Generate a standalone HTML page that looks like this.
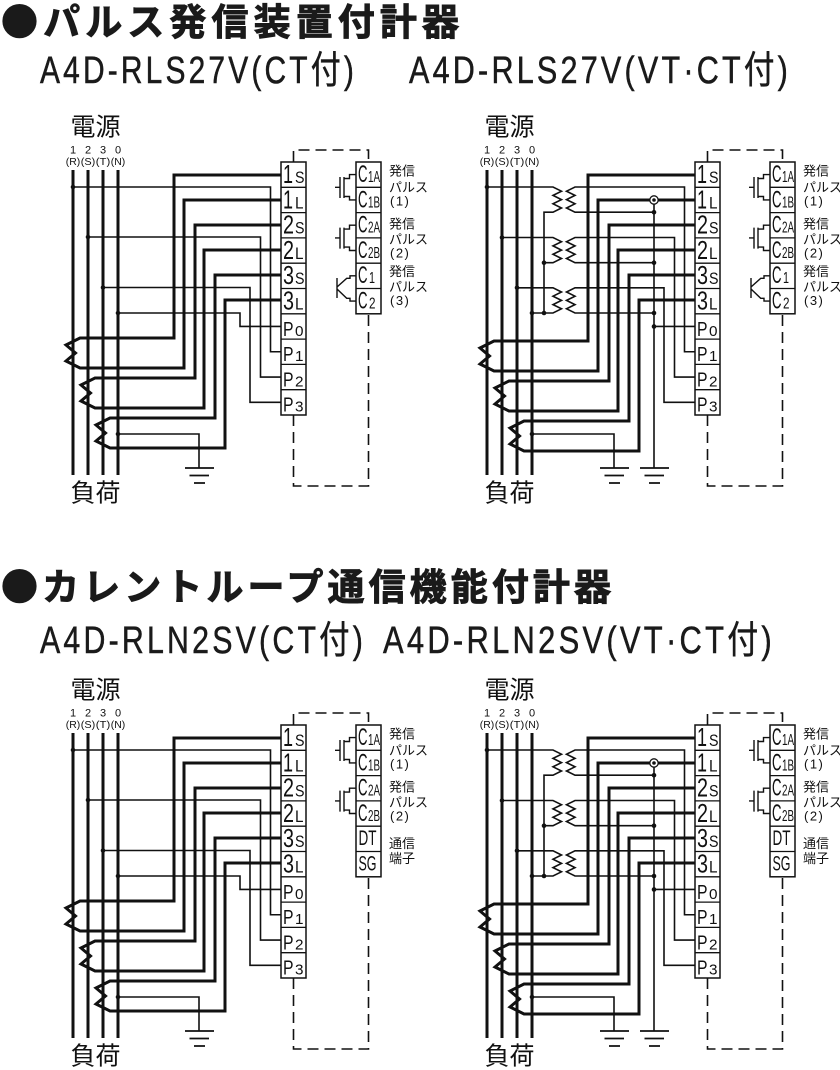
<!DOCTYPE html>
<html><head><meta charset="utf-8">
<style>html,body{margin:0;padding:0;background:#fff}svg{display:block}</style>
</head><body>
<svg xmlns="http://www.w3.org/2000/svg" width="840" height="1070" viewBox="0 0 840 1070">
<rect width="840" height="1070" fill="#fff"/>
<!-- Titles -->
<g font-family="'Noto Sans CJK JP',sans-serif" font-weight="700" fill="#1a1a1a" stroke="#1a1a1a" stroke-width="0.9" font-size="37">
<text x="1" y="35" textLength="458">●パルス発信装置付計器</text>
<text x="1" y="600" textLength="610">●カレントループ通信機能付計器</text>
</g>
<g font-family="'Liberation Sans','Noto Sans CJK JP',sans-serif" font-size="38" fill="#1a1a1a" stroke="#1a1a1a" stroke-width="0.5" letter-spacing="4">
<text x="40" y="83" textLength="317" lengthAdjust="spacingAndGlyphs">A4D-RLS27V(CT付)</text>
<text x="409" y="83" textLength="382" lengthAdjust="spacingAndGlyphs">A4D-RLS27V(VT·CT付)</text>
<text x="40" y="653" textLength="326" lengthAdjust="spacingAndGlyphs">A4D-RLN2SV(CT付)</text>
<text x="383" y="653" textLength="392" lengthAdjust="spacingAndGlyphs">A4D-RLN2SV(VT·CT付)</text>
</g>

<!-- ========== DIAGRAM 1 (top-left, CT) ========== -->
<g transform="translate(0,0)">
<g fill="none" stroke="#111">
<path stroke-width="3" d="M73 170V475M88 170V475M103 170V475M118 170V475"/>
<path stroke-width="3" d="M281 175H174V338H80L66 345L75.5 353L66 361L80 368H184V200H281M281 225H195V378H95L81 385L90.5 393L81 401L95 408H204V250H281M281 275H215V418H110L96 425L105.5 433L96 441L110 448H225V300H281"/>
<path stroke-width="1.6" d="M73 187H270.5V351.75H281M88 237H260.5V377.05H281M103 287.5H250V402.35H281M118 313H240V326.45H281M118 434H199V468"/>
<path stroke-width="1.8" d="M185 468H214M189.5 475.5H209M194 483H205"/>
<rect x="281" y="162" width="25" height="253" fill="#fff" stroke-width="1.5"/>
<path stroke-width="1.3" d="M281 187.3H306M281 212.6H306M281 237.9H306M281 263.2H306M281 288.5H306M281 313.8H306M281 339.1H306M281 364.4H306M281 389.7H306"/>
<rect x="356" y="162" width="25" height="151.8" fill="#fff" stroke-width="1.5"/>
<path stroke-width="1.3" d="M356 187.3H381M356 212.6H381M356 237.9H381M356 263.2H381M356 288.5H381"/>
<path stroke-width="1.6" stroke-dasharray="11 6" d="M293.5 162V150H368.5V162M293.5 415V486H368.5V313.8"/>
<path stroke-width="1.4" d="M335 187.3H340M340 177V198M344 177V198M344 178.5H349.5V174.6H356M344 196.5H349.5V199.9H356M335 237.9H340M340 227.6V248.6M344 227.6V248.6M344 229.1H349.5V225.2H356M344 247.1H349.5V250.5H356"/>
<path stroke-width="1.4" d="M337 278V298M337 287L346.7 278.3H350V275.8H356M337 289L346.7 298.3H350V301.1H356"/>
</g>
<g fill="#111"><circle cx="73" cy="187" r="2.3"/><circle cx="88" cy="237" r="2.3"/><circle cx="103" cy="287.5" r="2.3"/><circle cx="118" cy="313" r="2.3"/><circle cx="118" cy="434" r="2.3"/></g>
<g font-family="'Liberation Sans',sans-serif" fill="#111">
<text x="283" y="183" font-size="26" textLength="10" lengthAdjust="spacingAndGlyphs">1</text><text x="295" y="183" font-size="17" textLength="9.5" lengthAdjust="spacingAndGlyphs">S</text>
<text x="283" y="208.3" font-size="26" textLength="10" lengthAdjust="spacingAndGlyphs">1</text><text x="295" y="208.3" font-size="17" textLength="8.5" lengthAdjust="spacingAndGlyphs">L</text>
<text x="283" y="233.6" font-size="26" textLength="11" lengthAdjust="spacingAndGlyphs">2</text><text x="295" y="233.6" font-size="17" textLength="9.5" lengthAdjust="spacingAndGlyphs">S</text>
<text x="283" y="258.9" font-size="26" textLength="11" lengthAdjust="spacingAndGlyphs">2</text><text x="295" y="258.9" font-size="17" textLength="8.5" lengthAdjust="spacingAndGlyphs">L</text>
<text x="283" y="284.2" font-size="26" textLength="11" lengthAdjust="spacingAndGlyphs">3</text><text x="295" y="284.2" font-size="17" textLength="9.5" lengthAdjust="spacingAndGlyphs">S</text>
<text x="283" y="309.5" font-size="26" textLength="11" lengthAdjust="spacingAndGlyphs">3</text><text x="295" y="309.5" font-size="17" textLength="8.5" lengthAdjust="spacingAndGlyphs">L</text>
<text x="283" y="335.8" font-size="20" textLength="10.5" lengthAdjust="spacingAndGlyphs">P</text><text x="295" y="335.8" font-size="15" textLength="8.5" lengthAdjust="spacingAndGlyphs">0</text>
<text x="283" y="361.1" font-size="20" textLength="10.5" lengthAdjust="spacingAndGlyphs">P</text><text x="295" y="361.1" font-size="15" textLength="8.5" lengthAdjust="spacingAndGlyphs">1</text>
<text x="283" y="386.4" font-size="20" textLength="10.5" lengthAdjust="spacingAndGlyphs">P</text><text x="295" y="386.4" font-size="15" textLength="8.5" lengthAdjust="spacingAndGlyphs">2</text>
<text x="283" y="411.7" font-size="20" textLength="10.5" lengthAdjust="spacingAndGlyphs">P</text><text x="295" y="411.7" font-size="15" textLength="8.5" lengthAdjust="spacingAndGlyphs">3</text>
<text x="358" y="182" font-size="24" textLength="9.5" lengthAdjust="spacingAndGlyphs">C</text><text x="368" y="182" font-size="16" textLength="12" lengthAdjust="spacingAndGlyphs">1A</text>
<text x="358" y="207.3" font-size="24" textLength="9.5" lengthAdjust="spacingAndGlyphs">C</text><text x="368" y="207.3" font-size="16" textLength="12" lengthAdjust="spacingAndGlyphs">1B</text>
<text x="358" y="232.6" font-size="24" textLength="9.5" lengthAdjust="spacingAndGlyphs">C</text><text x="368" y="232.6" font-size="16" textLength="12" lengthAdjust="spacingAndGlyphs">2A</text>
<text x="358" y="257.9" font-size="24" textLength="9.5" lengthAdjust="spacingAndGlyphs">C</text><text x="368" y="257.9" font-size="16" textLength="12" lengthAdjust="spacingAndGlyphs">2B</text>
<text x="358" y="283.2" font-size="24" textLength="9.5" lengthAdjust="spacingAndGlyphs">C</text><text x="369" y="283.2" font-size="16" textLength="6" lengthAdjust="spacingAndGlyphs">1</text>
<text x="358" y="308.5" font-size="24" textLength="9.5" lengthAdjust="spacingAndGlyphs">C</text><text x="369" y="308.5" font-size="16" textLength="6.5" lengthAdjust="spacingAndGlyphs">2</text>
<g font-size="11" text-anchor="middle"><text x="73" y="153.5">1</text><text x="88" y="153.5">2</text><text x="103" y="153.5">3</text><text x="118" y="153.5">0</text></g>
<g font-size="10.5" text-anchor="middle"><text x="73" y="165" textLength="14.5" lengthAdjust="spacingAndGlyphs">(R)</text><text x="88" y="165" textLength="14.5" lengthAdjust="spacingAndGlyphs">(S)</text><text x="103" y="165" textLength="14.5" lengthAdjust="spacingAndGlyphs">(T)</text><text x="118" y="165" textLength="14.5" lengthAdjust="spacingAndGlyphs">(N)</text></g>
</g>
<g font-family="'Noto Sans CJK JP',sans-serif" fill="#111">
<text x="95.5" y="135.5" font-size="25" text-anchor="middle">電源</text>
<text x="95.5" y="501.5" font-size="25" text-anchor="middle">負荷</text>
<g font-size="13"><text x="389" y="175.5">発信</text><text x="389" y="192">パルス</text><text x="389" y="228.5">発信</text><text x="389" y="244">パルス</text><text x="389" y="276">発信</text><text x="389" y="291.5">パルス</text></g>
<g font-size="13" font-family="'Liberation Sans',sans-serif" letter-spacing="1.5"><text x="390" y="205.5">(1)</text><text x="390" y="257.5">(2)</text><text x="390" y="305">(3)</text></g>
</g>
</g>

<!-- ========== DIAGRAM 2 (top-right, VT+CT) ========== -->
<g transform="translate(414,0)">
<g fill="none" stroke="#111">
<path stroke-width="3" d="M73 170V475M88 170V475M103 170V475M118 170V475"/>
<path stroke-width="3" d="M281 175H174V341H80L66 348L75.5 356L66 364L80 371H184V200H281M281 225H195V381H95L81 388L90.5 396L81 404L95 411H204V250H281M281 275H215V421H110L96 428L105.5 436L96 444L110 451H225V300H281"/>
<path stroke-width="1.6" d="M73 187H139L147.5 191.2L139 195.4L147.5 199.6L139 203.8L147.5 208L139 212.2H130V313M88 237.5H139L147.5 241.7L139 245.9L147.5 250.1L139 254.3L147.5 258.5L139 262.7H130M103 287.8H139L147.5 292L139 296.2L147.5 300.4L139 304.6L147.5 308.8L139 313H118M281 351.75H270.5V187H161L152.5 191.2L161 195.4L152.5 199.6L161 203.8L152.5 208L161 212.2H240M281 377.05H260.5V237.5H161L152.5 241.7L161 245.9L152.5 250.1L161 254.3L152.5 258.5L161 262.7H240M281 402.35H250V287.8H161L152.5 292L161 296.2L152.5 300.4L161 304.6L152.5 308.8L161 313H240M240 200V468M240 326.45H281M119 434H200V468"/>
<path stroke-width="1.8" d="M186 468H215M190.5 475.5H210M195 483H206M226 468H255M230.5 475.5H250M235 483H246"/>
<rect x="281" y="162" width="25" height="253" fill="#fff" stroke-width="1.5"/>
<path stroke-width="1.3" d="M281 187.3H306M281 212.6H306M281 237.9H306M281 263.2H306M281 288.5H306M281 313.8H306M281 339.1H306M281 364.4H306M281 389.7H306"/>
<rect x="356" y="162" width="25" height="151.8" fill="#fff" stroke-width="1.5"/>
<path stroke-width="1.3" d="M356 187.3H381M356 212.6H381M356 237.9H381M356 263.2H381M356 288.5H381"/>
<path stroke-width="1.6" stroke-dasharray="11 6" d="M293.5 162V150H368.5V162M293.5 415V486H368.5V313.8"/>
<path stroke-width="1.4" d="M335 187.3H340M340 177V198M344 177V198M344 178.5H349.5V174.6H356M344 196.5H349.5V199.9H356M335 237.9H340M340 227.6V248.6M344 227.6V248.6M344 229.1H349.5V225.2H356M344 247.1H349.5V250.5H356"/>
<path stroke-width="1.4" d="M337 278V298M337 287L346.7 278.3H350V275.8H356M337 289L346.7 298.3H350V301.1H356"/>
<circle cx="240" cy="200" r="4.2" fill="#fff" stroke-width="1.3"/>
</g>
<g fill="#111"><circle cx="240" cy="200" r="1.8"/><circle cx="73" cy="187" r="2.3"/><circle cx="88" cy="237.5" r="2.3"/><circle cx="103" cy="287.8" r="2.3"/><circle cx="118" cy="313" r="2.3"/><circle cx="130" cy="262.7" r="2.3"/><circle cx="130" cy="313" r="2.3"/><circle cx="240" cy="212.2" r="2.3"/><circle cx="240" cy="262.7" r="2.3"/><circle cx="240" cy="313" r="2.3"/><circle cx="240" cy="326.45" r="2.3"/><circle cx="118" cy="434" r="2.3"/></g>
<g font-family="'Liberation Sans',sans-serif" fill="#111">
<text x="283" y="183" font-size="26" textLength="10" lengthAdjust="spacingAndGlyphs">1</text><text x="295" y="183" font-size="17" textLength="9.5" lengthAdjust="spacingAndGlyphs">S</text>
<text x="283" y="208.3" font-size="26" textLength="10" lengthAdjust="spacingAndGlyphs">1</text><text x="295" y="208.3" font-size="17" textLength="8.5" lengthAdjust="spacingAndGlyphs">L</text>
<text x="283" y="233.6" font-size="26" textLength="11" lengthAdjust="spacingAndGlyphs">2</text><text x="295" y="233.6" font-size="17" textLength="9.5" lengthAdjust="spacingAndGlyphs">S</text>
<text x="283" y="258.9" font-size="26" textLength="11" lengthAdjust="spacingAndGlyphs">2</text><text x="295" y="258.9" font-size="17" textLength="8.5" lengthAdjust="spacingAndGlyphs">L</text>
<text x="283" y="284.2" font-size="26" textLength="11" lengthAdjust="spacingAndGlyphs">3</text><text x="295" y="284.2" font-size="17" textLength="9.5" lengthAdjust="spacingAndGlyphs">S</text>
<text x="283" y="309.5" font-size="26" textLength="11" lengthAdjust="spacingAndGlyphs">3</text><text x="295" y="309.5" font-size="17" textLength="8.5" lengthAdjust="spacingAndGlyphs">L</text>
<text x="283" y="335.8" font-size="20" textLength="10.5" lengthAdjust="spacingAndGlyphs">P</text><text x="295" y="335.8" font-size="15" textLength="8.5" lengthAdjust="spacingAndGlyphs">0</text>
<text x="283" y="361.1" font-size="20" textLength="10.5" lengthAdjust="spacingAndGlyphs">P</text><text x="295" y="361.1" font-size="15" textLength="8.5" lengthAdjust="spacingAndGlyphs">1</text>
<text x="283" y="386.4" font-size="20" textLength="10.5" lengthAdjust="spacingAndGlyphs">P</text><text x="295" y="386.4" font-size="15" textLength="8.5" lengthAdjust="spacingAndGlyphs">2</text>
<text x="283" y="411.7" font-size="20" textLength="10.5" lengthAdjust="spacingAndGlyphs">P</text><text x="295" y="411.7" font-size="15" textLength="8.5" lengthAdjust="spacingAndGlyphs">3</text>
<text x="358" y="182" font-size="24" textLength="9.5" lengthAdjust="spacingAndGlyphs">C</text><text x="368" y="182" font-size="16" textLength="12" lengthAdjust="spacingAndGlyphs">1A</text>
<text x="358" y="207.3" font-size="24" textLength="9.5" lengthAdjust="spacingAndGlyphs">C</text><text x="368" y="207.3" font-size="16" textLength="12" lengthAdjust="spacingAndGlyphs">1B</text>
<text x="358" y="232.6" font-size="24" textLength="9.5" lengthAdjust="spacingAndGlyphs">C</text><text x="368" y="232.6" font-size="16" textLength="12" lengthAdjust="spacingAndGlyphs">2A</text>
<text x="358" y="257.9" font-size="24" textLength="9.5" lengthAdjust="spacingAndGlyphs">C</text><text x="368" y="257.9" font-size="16" textLength="12" lengthAdjust="spacingAndGlyphs">2B</text>
<text x="358" y="283.2" font-size="24" textLength="9.5" lengthAdjust="spacingAndGlyphs">C</text><text x="369" y="283.2" font-size="16" textLength="6" lengthAdjust="spacingAndGlyphs">1</text>
<text x="358" y="308.5" font-size="24" textLength="9.5" lengthAdjust="spacingAndGlyphs">C</text><text x="369" y="308.5" font-size="16" textLength="6.5" lengthAdjust="spacingAndGlyphs">2</text>
<g font-size="11" text-anchor="middle"><text x="73" y="153.5">1</text><text x="88" y="153.5">2</text><text x="103" y="153.5">3</text><text x="118" y="153.5">0</text></g>
<g font-size="10.5" text-anchor="middle"><text x="73" y="165" textLength="14.5" lengthAdjust="spacingAndGlyphs">(R)</text><text x="88" y="165" textLength="14.5" lengthAdjust="spacingAndGlyphs">(S)</text><text x="103" y="165" textLength="14.5" lengthAdjust="spacingAndGlyphs">(T)</text><text x="118" y="165" textLength="14.5" lengthAdjust="spacingAndGlyphs">(N)</text></g>
</g>
<g font-family="'Noto Sans CJK JP',sans-serif" fill="#111">
<text x="95.5" y="135.5" font-size="25" text-anchor="middle">電源</text>
<text x="95.5" y="501.5" font-size="25" text-anchor="middle">負荷</text>
<g font-size="13"><text x="389" y="175.5">発信</text><text x="389" y="192">パルス</text><text x="389" y="228.5">発信</text><text x="389" y="244">パルス</text><text x="389" y="276">発信</text><text x="389" y="291.5">パルス</text></g>
<g font-size="13" font-family="'Liberation Sans',sans-serif" letter-spacing="1.5"><text x="390" y="205.5">(1)</text><text x="390" y="257.5">(2)</text><text x="390" y="305">(3)</text></g>
</g>
</g>

<!-- ========== DIAGRAM 3 (bottom-left, CT) ========== -->
<g transform="translate(0,563)">
<g fill="none" stroke="#111">
<path stroke-width="3" d="M73 170V475M88 170V475M103 170V475M118 170V475"/>
<path stroke-width="3" d="M281 175H174V338H80L66 345L75.5 353L66 361L80 368H184V200H281M281 225H195V378H95L81 385L90.5 393L81 401L95 408H204V250H281M281 275H215V418H110L96 425L105.5 433L96 441L110 448H225V300H281"/>
<path stroke-width="1.6" d="M73 187H270.5V351.75H281M88 237H260.5V377.05H281M103 287.5H250V402.35H281M118 313H240V326.45H281M118 434H199V468"/>
<path stroke-width="1.8" d="M185 468H214M189.5 475.5H209M194 483H205"/>
<rect x="281" y="162" width="25" height="253" fill="#fff" stroke-width="1.5"/>
<path stroke-width="1.3" d="M281 187.3H306M281 212.6H306M281 237.9H306M281 263.2H306M281 288.5H306M281 313.8H306M281 339.1H306M281 364.4H306M281 389.7H306"/>
<rect x="356" y="162" width="25" height="151.8" fill="#fff" stroke-width="1.5"/>
<path stroke-width="1.3" d="M356 187.3H381M356 212.6H381M356 237.9H381M356 263.2H381M356 288.5H381"/>
<path stroke-width="1.6" stroke-dasharray="11 6" d="M293.5 162V150H368.5V162M293.5 415V486H368.5V313.8"/>
<path stroke-width="1.4" d="M335 187.3H340M340 177V198M344 177V198M344 178.5H349.5V174.6H356M344 196.5H349.5V199.9H356M335 237.9H340M340 227.6V248.6M344 227.6V248.6M344 229.1H349.5V225.2H356M344 247.1H349.5V250.5H356"/>
</g>
<g fill="#111"><circle cx="73" cy="187" r="2.3"/><circle cx="88" cy="237" r="2.3"/><circle cx="103" cy="287.5" r="2.3"/><circle cx="118" cy="313" r="2.3"/><circle cx="118" cy="434" r="2.3"/></g>
<g font-family="'Liberation Sans',sans-serif" fill="#111">
<text x="283" y="183" font-size="26" textLength="10" lengthAdjust="spacingAndGlyphs">1</text><text x="295" y="183" font-size="17" textLength="9.5" lengthAdjust="spacingAndGlyphs">S</text>
<text x="283" y="208.3" font-size="26" textLength="10" lengthAdjust="spacingAndGlyphs">1</text><text x="295" y="208.3" font-size="17" textLength="8.5" lengthAdjust="spacingAndGlyphs">L</text>
<text x="283" y="233.6" font-size="26" textLength="11" lengthAdjust="spacingAndGlyphs">2</text><text x="295" y="233.6" font-size="17" textLength="9.5" lengthAdjust="spacingAndGlyphs">S</text>
<text x="283" y="258.9" font-size="26" textLength="11" lengthAdjust="spacingAndGlyphs">2</text><text x="295" y="258.9" font-size="17" textLength="8.5" lengthAdjust="spacingAndGlyphs">L</text>
<text x="283" y="284.2" font-size="26" textLength="11" lengthAdjust="spacingAndGlyphs">3</text><text x="295" y="284.2" font-size="17" textLength="9.5" lengthAdjust="spacingAndGlyphs">S</text>
<text x="283" y="309.5" font-size="26" textLength="11" lengthAdjust="spacingAndGlyphs">3</text><text x="295" y="309.5" font-size="17" textLength="8.5" lengthAdjust="spacingAndGlyphs">L</text>
<text x="283" y="335.8" font-size="20" textLength="10.5" lengthAdjust="spacingAndGlyphs">P</text><text x="295" y="335.8" font-size="15" textLength="8.5" lengthAdjust="spacingAndGlyphs">0</text>
<text x="283" y="361.1" font-size="20" textLength="10.5" lengthAdjust="spacingAndGlyphs">P</text><text x="295" y="361.1" font-size="15" textLength="8.5" lengthAdjust="spacingAndGlyphs">1</text>
<text x="283" y="386.4" font-size="20" textLength="10.5" lengthAdjust="spacingAndGlyphs">P</text><text x="295" y="386.4" font-size="15" textLength="8.5" lengthAdjust="spacingAndGlyphs">2</text>
<text x="283" y="411.7" font-size="20" textLength="10.5" lengthAdjust="spacingAndGlyphs">P</text><text x="295" y="411.7" font-size="15" textLength="8.5" lengthAdjust="spacingAndGlyphs">3</text>
<text x="358" y="182" font-size="24" textLength="9.5" lengthAdjust="spacingAndGlyphs">C</text><text x="368" y="182" font-size="16" textLength="12" lengthAdjust="spacingAndGlyphs">1A</text>
<text x="358" y="207.3" font-size="24" textLength="9.5" lengthAdjust="spacingAndGlyphs">C</text><text x="368" y="207.3" font-size="16" textLength="12" lengthAdjust="spacingAndGlyphs">1B</text>
<text x="358" y="232.6" font-size="24" textLength="9.5" lengthAdjust="spacingAndGlyphs">C</text><text x="368" y="232.6" font-size="16" textLength="12" lengthAdjust="spacingAndGlyphs">2A</text>
<text x="358" y="257.9" font-size="24" textLength="9.5" lengthAdjust="spacingAndGlyphs">C</text><text x="368" y="257.9" font-size="16" textLength="12" lengthAdjust="spacingAndGlyphs">2B</text>
<text x="358.5" y="282" font-size="21" textLength="18" lengthAdjust="spacingAndGlyphs">DT</text>
<text x="358.5" y="307.3" font-size="21" textLength="18" lengthAdjust="spacingAndGlyphs">SG</text>
<g font-size="11" text-anchor="middle"><text x="73" y="153.5">1</text><text x="88" y="153.5">2</text><text x="103" y="153.5">3</text><text x="118" y="153.5">0</text></g>
<g font-size="10.5" text-anchor="middle"><text x="73" y="165" textLength="14.5" lengthAdjust="spacingAndGlyphs">(R)</text><text x="88" y="165" textLength="14.5" lengthAdjust="spacingAndGlyphs">(S)</text><text x="103" y="165" textLength="14.5" lengthAdjust="spacingAndGlyphs">(T)</text><text x="118" y="165" textLength="14.5" lengthAdjust="spacingAndGlyphs">(N)</text></g>
</g>
<g font-family="'Noto Sans CJK JP',sans-serif" fill="#111">
<text x="95.5" y="135.5" font-size="25" text-anchor="middle">電源</text>
<text x="95.5" y="501.5" font-size="25" text-anchor="middle">負荷</text>
<g font-size="13"><text x="389" y="175.5">発信</text><text x="389" y="192">パルス</text><text x="389" y="228.5">発信</text><text x="389" y="244">パルス</text><text x="389" y="285">通信</text><text x="389" y="300">端子</text></g>
<g font-size="13" font-family="'Liberation Sans',sans-serif" letter-spacing="1.5"><text x="390" y="205.5">(1)</text><text x="390" y="257.5">(2)</text></g>
</g>
</g>

<!-- ========== DIAGRAM 4 (bottom-right, VT+CT) ========== -->
<g transform="translate(414,563)">
<g fill="none" stroke="#111">
<path stroke-width="3" d="M73 170V475M88 170V475M103 170V475M118 170V475"/>
<path stroke-width="3" d="M281 175H174V341H80L66 348L75.5 356L66 364L80 371H184V200H281M281 225H195V381H95L81 388L90.5 396L81 404L95 411H204V250H281M281 275H215V421H110L96 428L105.5 436L96 444L110 451H225V300H281"/>
<path stroke-width="1.6" d="M73 187H139L147.5 191.2L139 195.4L147.5 199.6L139 203.8L147.5 208L139 212.2H130V313M88 237.5H139L147.5 241.7L139 245.9L147.5 250.1L139 254.3L147.5 258.5L139 262.7H130M103 287.8H139L147.5 292L139 296.2L147.5 300.4L139 304.6L147.5 308.8L139 313H118M281 351.75H270.5V187H161L152.5 191.2L161 195.4L152.5 199.6L161 203.8L152.5 208L161 212.2H240M281 377.05H260.5V237.5H161L152.5 241.7L161 245.9L152.5 250.1L161 254.3L152.5 258.5L161 262.7H240M281 402.35H250V287.8H161L152.5 292L161 296.2L152.5 300.4L161 304.6L152.5 308.8L161 313H240M240 200V468M240 326.45H281M119 434H200V468"/>
<path stroke-width="1.8" d="M186 468H215M190.5 475.5H210M195 483H206M226 468H255M230.5 475.5H250M235 483H246"/>
<rect x="281" y="162" width="25" height="253" fill="#fff" stroke-width="1.5"/>
<path stroke-width="1.3" d="M281 187.3H306M281 212.6H306M281 237.9H306M281 263.2H306M281 288.5H306M281 313.8H306M281 339.1H306M281 364.4H306M281 389.7H306"/>
<rect x="356" y="162" width="25" height="151.8" fill="#fff" stroke-width="1.5"/>
<path stroke-width="1.3" d="M356 187.3H381M356 212.6H381M356 237.9H381M356 263.2H381M356 288.5H381"/>
<path stroke-width="1.6" stroke-dasharray="11 6" d="M293.5 162V150H368.5V162M293.5 415V486H368.5V313.8"/>
<path stroke-width="1.4" d="M335 187.3H340M340 177V198M344 177V198M344 178.5H349.5V174.6H356M344 196.5H349.5V199.9H356M335 237.9H340M340 227.6V248.6M344 227.6V248.6M344 229.1H349.5V225.2H356M344 247.1H349.5V250.5H356"/>
<circle cx="240" cy="200" r="4.2" fill="#fff" stroke-width="1.3"/>
</g>
<g fill="#111"><circle cx="240" cy="200" r="1.8"/><circle cx="73" cy="187" r="2.3"/><circle cx="88" cy="237.5" r="2.3"/><circle cx="103" cy="287.8" r="2.3"/><circle cx="118" cy="313" r="2.3"/><circle cx="130" cy="262.7" r="2.3"/><circle cx="130" cy="313" r="2.3"/><circle cx="240" cy="212.2" r="2.3"/><circle cx="240" cy="262.7" r="2.3"/><circle cx="240" cy="313" r="2.3"/><circle cx="240" cy="326.45" r="2.3"/><circle cx="118" cy="434" r="2.3"/></g>
<g font-family="'Liberation Sans',sans-serif" fill="#111">
<text x="283" y="183" font-size="26" textLength="10" lengthAdjust="spacingAndGlyphs">1</text><text x="295" y="183" font-size="17" textLength="9.5" lengthAdjust="spacingAndGlyphs">S</text>
<text x="283" y="208.3" font-size="26" textLength="10" lengthAdjust="spacingAndGlyphs">1</text><text x="295" y="208.3" font-size="17" textLength="8.5" lengthAdjust="spacingAndGlyphs">L</text>
<text x="283" y="233.6" font-size="26" textLength="11" lengthAdjust="spacingAndGlyphs">2</text><text x="295" y="233.6" font-size="17" textLength="9.5" lengthAdjust="spacingAndGlyphs">S</text>
<text x="283" y="258.9" font-size="26" textLength="11" lengthAdjust="spacingAndGlyphs">2</text><text x="295" y="258.9" font-size="17" textLength="8.5" lengthAdjust="spacingAndGlyphs">L</text>
<text x="283" y="284.2" font-size="26" textLength="11" lengthAdjust="spacingAndGlyphs">3</text><text x="295" y="284.2" font-size="17" textLength="9.5" lengthAdjust="spacingAndGlyphs">S</text>
<text x="283" y="309.5" font-size="26" textLength="11" lengthAdjust="spacingAndGlyphs">3</text><text x="295" y="309.5" font-size="17" textLength="8.5" lengthAdjust="spacingAndGlyphs">L</text>
<text x="283" y="335.8" font-size="20" textLength="10.5" lengthAdjust="spacingAndGlyphs">P</text><text x="295" y="335.8" font-size="15" textLength="8.5" lengthAdjust="spacingAndGlyphs">0</text>
<text x="283" y="361.1" font-size="20" textLength="10.5" lengthAdjust="spacingAndGlyphs">P</text><text x="295" y="361.1" font-size="15" textLength="8.5" lengthAdjust="spacingAndGlyphs">1</text>
<text x="283" y="386.4" font-size="20" textLength="10.5" lengthAdjust="spacingAndGlyphs">P</text><text x="295" y="386.4" font-size="15" textLength="8.5" lengthAdjust="spacingAndGlyphs">2</text>
<text x="283" y="411.7" font-size="20" textLength="10.5" lengthAdjust="spacingAndGlyphs">P</text><text x="295" y="411.7" font-size="15" textLength="8.5" lengthAdjust="spacingAndGlyphs">3</text>
<text x="358" y="182" font-size="24" textLength="9.5" lengthAdjust="spacingAndGlyphs">C</text><text x="368" y="182" font-size="16" textLength="12" lengthAdjust="spacingAndGlyphs">1A</text>
<text x="358" y="207.3" font-size="24" textLength="9.5" lengthAdjust="spacingAndGlyphs">C</text><text x="368" y="207.3" font-size="16" textLength="12" lengthAdjust="spacingAndGlyphs">1B</text>
<text x="358" y="232.6" font-size="24" textLength="9.5" lengthAdjust="spacingAndGlyphs">C</text><text x="368" y="232.6" font-size="16" textLength="12" lengthAdjust="spacingAndGlyphs">2A</text>
<text x="358" y="257.9" font-size="24" textLength="9.5" lengthAdjust="spacingAndGlyphs">C</text><text x="368" y="257.9" font-size="16" textLength="12" lengthAdjust="spacingAndGlyphs">2B</text>
<text x="358.5" y="282" font-size="21" textLength="18" lengthAdjust="spacingAndGlyphs">DT</text>
<text x="358.5" y="307.3" font-size="21" textLength="18" lengthAdjust="spacingAndGlyphs">SG</text>
<g font-size="11" text-anchor="middle"><text x="73" y="153.5">1</text><text x="88" y="153.5">2</text><text x="103" y="153.5">3</text><text x="118" y="153.5">0</text></g>
<g font-size="10.5" text-anchor="middle"><text x="73" y="165" textLength="14.5" lengthAdjust="spacingAndGlyphs">(R)</text><text x="88" y="165" textLength="14.5" lengthAdjust="spacingAndGlyphs">(S)</text><text x="103" y="165" textLength="14.5" lengthAdjust="spacingAndGlyphs">(T)</text><text x="118" y="165" textLength="14.5" lengthAdjust="spacingAndGlyphs">(N)</text></g>
</g>
<g font-family="'Noto Sans CJK JP',sans-serif" fill="#111">
<text x="95.5" y="135.5" font-size="25" text-anchor="middle">電源</text>
<text x="95.5" y="501.5" font-size="25" text-anchor="middle">負荷</text>
<g font-size="13"><text x="389" y="175.5">発信</text><text x="389" y="192">パルス</text><text x="389" y="228.5">発信</text><text x="389" y="244">パルス</text><text x="389" y="285">通信</text><text x="389" y="300">端子</text></g>
<g font-size="13" font-family="'Liberation Sans',sans-serif" letter-spacing="1.5"><text x="390" y="205.5">(1)</text><text x="390" y="257.5">(2)</text></g>
</g>
</g>
</svg>
</body></html>
